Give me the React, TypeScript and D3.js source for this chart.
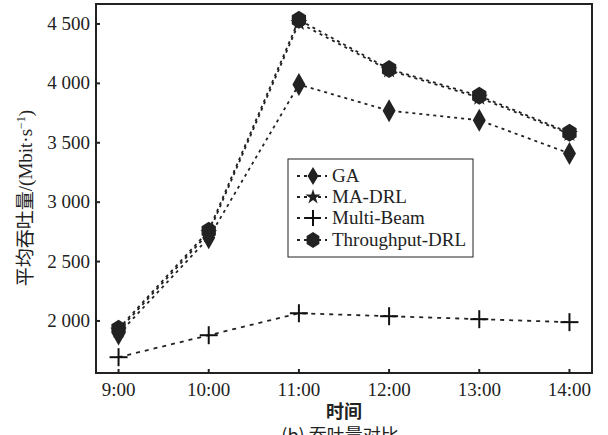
import React from 'react';
import * as d3 from 'd3';

// time axis: 9:00 .. 14:00
const hours = [9, 10, 11, 12, 13, 14];
const hourLabels = ['9:00', '10:00', '11:00', '12:00', '13:00', '14:00'];
const yTicks = [2000, 2500, 3000, 3500, 4000, 4500];

const gaValues = [1890, 2700, 3990, 3770, 3690, 3410];
const maDrlValues = [1920, 2740, 4510, 4110, 3880, 3575];
const multiBeamValues = [1695, 1880, 2065, 2040, 2015, 1990];
const thrDrlValues = [1935, 2760, 4535, 4120, 3895, 3585];

const seriesNames = ['GA', 'MA-DRL', 'Multi-Beam', 'Throughput-DRL'];

const W = 608;
const H = 435;
const left = 96, right = 592, top = 4, bottom = 373;
const font = '"Liberation Serif", "DejaVu Serif", serif';
const cjk = '"Noto Sans CJK SC", "Liberation Serif", serif';

const fmt = (v: number) => {
  const s = String(v);
  return s.length > 3 ? s.slice(0, s.length - 3) + ' ' + s.slice(-3) : s;
};

function diamond(w: number, h: number) {
  return `M0,${-h / 2}L${w / 2},0L0,${h / 2}L${-w / 2},0Z`;
}
function hexagon(r: number) {
  const pts = d3.range(6).map(i => {
    const a = Math.PI / 3 * i - Math.PI / 2;
    return [r * 0.92 * Math.cos(a), r * Math.sin(a)];
  });
  return 'M' + pts.map(p => p.join(',')).join('L') + 'Z';
}
const star = d3.symbol().type(d3.symbolStar).size(90)() as string;
const starSmall = d3.symbol().type(d3.symbolStar).size(70)() as string;

const Marker = ({ kind, x, y, small }: { kind: number; x: number; y: number; small?: boolean }) => {
  const t = `translate(${x},${y})`;
  if (kind === 0) return <path transform={t} d={small ? diamond(11, 18) : diamond(13, 23)} fill="#222" />;
  if (kind === 1) return <path transform={t} d={small ? starSmall : star} fill="#222" />;
  if (kind === 2) {
    const s = small ? 8 : 9;
    return (
      <g transform={t} stroke="#111" strokeWidth={2}>
        <line x1={-s} x2={s} y1={0} y2={0} />
        <line x1={0} x2={0} y1={-s} y2={s} />
      </g>
    );
  }
  return <path transform={t} d={small ? hexagon(8) : hexagon(9)} fill="#222" />;
};

export default function App() {
  const x = d3.scaleLinear().domain([8.75, 14.25]).range([left, right]);
  const y = d3.scaleLinear().domain([1562, 4668]).range([bottom, top]);

  const line = d3.line<number>()
    .x((_, i) => x(hours[i]))
    .y(d => y(d));

  const allSeries = [gaValues, maDrlValues, multiBeamValues, thrDrlValues];
  const legendRows = [176, 197, 218, 240];

  return (
    <svg width={W} height={H} style={{ position: 'absolute', left: 0, top: 0 }}>
      <rect width={W} height={H} fill="white" />
      {/* lines */}
      {allSeries.map((s, k) => (
        <path key={'l' + k} d={line(s) as string} fill="none" stroke="#222"
          strokeWidth={1.8} strokeDasharray={k === 2 ? '4,5' : '3,4'} />
      ))}
      {/* markers, star under hexagon */}
      {[1, 3, 0, 2].map(k => allSeries[k].map((v, i) => (
        <Marker key={`m${k}-${i}`} kind={k} x={x(hours[i])} y={y(v)} />
      )))}

      {/* frame */}
      <rect x={left} y={top} width={right - left} height={bottom - top}
        fill="none" stroke="#222" strokeWidth={2} />

      {/* y ticks */}
      {yTicks.map(t => (
        <g key={'y' + t}>
          <line x1={left} x2={left + 4} y1={y(t)} y2={y(t)} stroke="#222" strokeWidth={2} />
          <text x={left - 6} y={y(t) + 6} textAnchor="end" fontFamily={font} fontSize={19} fill="#222">{fmt(t)}</text>
        </g>
      ))}
      {/* x ticks */}
      {hours.map((h, i) => (
        <g key={'x' + h}>
          <line x1={x(h)} x2={x(h)} y1={bottom} y2={bottom - 4} stroke="#222" strokeWidth={2} />
          <text x={x(h)} y={bottom + 23} textAnchor="middle" fontFamily={font} fontSize={19} fill="#222">{hourLabels[i]}</text>
        </g>
      ))}

      {/* axis titles */}
      <text x={(left + right) / 2} y={418} textAnchor="middle" fontFamily={cjk} fontSize={18} fontWeight="bold" fill="#222">时间</text>
      <text x={(left + right) / 2 - 4} y={442} textAnchor="middle" fontFamily={cjk} fontSize={18} fill="#222">(b) 吞吐量对比</text>
      <g transform="translate(32,198) rotate(-90)">
        <text textAnchor="middle" fontSize={19} fill="#222">
          <tspan fontFamily={cjk}>平均吞吐量</tspan>
          <tspan fontFamily={font}>/(Mbit·s</tspan>
          <tspan fontFamily={font} fontSize={12} dy={-7}>−1</tspan>
          <tspan fontFamily={font} dy={7}>)</tspan>
        </text>
      </g>

      {/* legend */}
      <rect x={288} y={159} width={185} height={98} fill="white" stroke="#222" strokeWidth={1} />
      {seriesNames.map((n, k) => (
        <g key={'lg' + k}>
          <line x1={297} x2={327} y1={legendRows[k]} y2={legendRows[k]} stroke="#222" strokeWidth={1.8} strokeDasharray="3,4" />
          <Marker kind={k} x={313} y={legendRows[k]} small />
          <text x={332} y={legendRows[k] + 6} fontFamily={font} fontSize={19} fill="#222">{n}</text>
        </g>
      ))}
    </svg>
  );
}
